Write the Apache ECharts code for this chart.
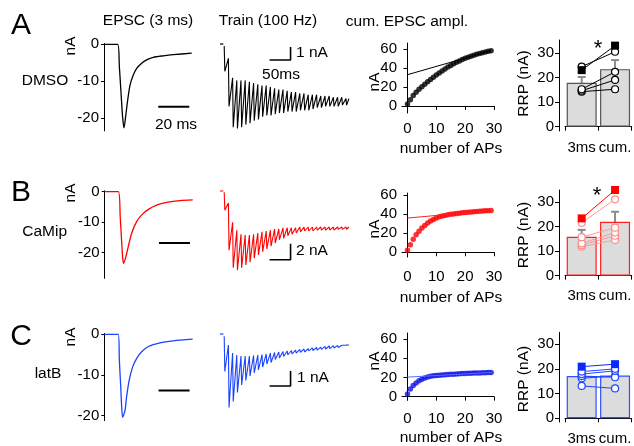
<!DOCTYPE html>
<html><head><meta charset="utf-8">
<script src="https://cdn.jsdelivr.net/npm/echarts@6/dist/echarts.min.js"></script>
<style>html,body{margin:0;padding:0;background:#fff}#c{width:634px;height:446px}</style>
</head><body><div id="c"></div>
<script>
// ---------- DATA ----------
// EPSC (3 ms) traces: time (ms), current (nA)
const epscTimeA = [0, 8.8, 9.9, 11.0, 12.0, 12.9, 14.2, 15.3, 16.8, 18.9, 21.1, 24.3, 27.5, 31.8, 38.3, 44.7, 56.6];
const epscValA  = [0, 0, -6, -13.2, -19.6, -22.6, -18.7, -15, -11, -8.3, -6.5, -5.1, -4.2, -3.5, -3.1, -2.8, -2.4];
const epscTimeB = [0, 8.8, 10.0, 11.0, 11.6, 12.2, 13.7, 15.2, 17.4, 20.6, 23.9, 28.2, 33.5, 40, 48.6, 56.8];
const epscValB  = [0, 0, -8.2, -16.9, -21.8, -23.5, -21.3, -18, -13.6, -9.8, -7.6, -5.8, -4.4, -3.5, -2.9, -2.7];
const epscTimeC = [0, 9.05, 9.7, 10.6, 11.2, 11.85, 13.4, 14.4, 16.1, 18.3, 20.9, 24.1, 28.4, 35.9, 44.5, 57];
const epscValC  = [0, 0, -6.3, -12.9, -17.8, -20.4, -18.6, -15.3, -11.2, -8.0, -5.9, -4.3, -3.0, -2.1, -1.6, -1.2];
const epscTicks = [0, -10, -20];

// Train (100 Hz): peak and inter-pulse current for each of 30 pulses (nA)
const trainPeaksA   = [-2.1,-4.8,-6.4,-6.5,-6.4,-6.2,-6.1,-5.9,-5.8,-5.6,-5.5,-5.5,-5.4,-5.3,-5.3,-5.2,-5.2,-5.2,-5.1,-5.1,-5.1,-5.0,-4.9,-4.9,-4.8,-4.8,-4.8,-4.8,-4.7,-4.7];
const trainTroughsA = [-1.1,-2.6,-2.8,-2.8,-2.8,-2.9,-3.0,-3.1,-3.2,-3.2,-3.3,-3.4,-3.5,-3.5,-3.6,-3.7,-3.7,-3.8,-3.8,-3.9,-3.9,-3.9,-4.0,-4.0,-4.0,-4.1,-4.1,-4.1,-4.2,-4.2];
const trainPeaksB   = [-2.4,-7.4,-9.6,-9.9,-9.6,-9.25,-8.9,-8.4,-8.0,-7.6,-7.25,-6.9,-6.5,-6.1,-5.9,-5.6,-5.4,-5.25,-5.1,-5.0,-5.0,-5.0,-4.9,-4.9,-4.9,-4.9,-4.9,-4.8,-4.8,-4.8];
const trainTroughsB = [-1.5,-3.9,-4.9,-5.4,-5.5,-5.5,-5.4,-5.25,-5.1,-5.0,-4.9,-4.75,-4.75,-4.6,-4.6,-4.6,-4.6,-4.5,-4.5,-4.5,-4.5,-4.5,-4.5,-4.5,-4.5,-4.5,-4.5,-4.5,-4.5,-4.5];
const trainPeaksC   = [-2.5,-4.9,-4.5,-3.9,-3.4,-3.1,-2.8,-2.6,-2.4,-2.2,-2.0,-1.9,-1.7,-1.6,-1.5,-1.4,-1.33,-1.27,-1.23,-1.2,-1.13,-1.1,-1.07,-1.03,-1.0,-0.97,-0.93,-0.9,-0.87,-0.87];
const trainTroughsC = [-0.73,-1.27,-1.4,-1.47,-1.47,-1.47,-1.43,-1.4,-1.37,-1.33,-1.27,-1.23,-1.2,-1.17,-1.13,-1.1,-1.07,-1.03,-1.0,-0.97,-0.93,-0.9,-0.87,-0.83,-0.8,-0.77,-0.76,-0.75,-0.74,-0.73];
const pulseStart = 10, pulseInterval = 10; // ms (100 Hz)

// Cumulative EPSC amplitude (nA) vs AP number 0..29, and back-extrapolated fit line (value at AP 0 and AP 29)
const cumA = [2, 6.5, 11, 14.5, 17.5, 20.3, 23, 25.5, 28, 30.4, 32.7, 34.9, 37, 39, 41, 42.8, 44.5, 46.1, 47.6, 49, 50.3, 51.5, 52.6, 53.6, 54.5, 55.4, 56.2, 57, 57.7, 58.4];
const fitA = [33, 58.4];
const cumB = [2, 8, 13.7, 18.5, 22, 25.5, 28.3, 30.8, 32.8, 34.5, 36.2, 37.3, 38.1, 38.8, 39.4, 39.9, 40.4, 40.8, 41.2, 41.5, 41.8, 42.1, 42.4, 42.6, 42.9, 43.1, 43.4, 43.6, 43.8, 44.0];
const fitB = [36, 44];
const cumC = [2.7, 8, 11.5, 14.3, 16.4, 18.2, 19.5, 20.4, 21.1, 21.6, 22, 22.3, 22.6, 22.8, 23, 23.2, 23.4, 23.6, 23.8, 24, 24.1, 24.3, 24.4, 24.5, 24.6, 24.7, 24.8, 24.9, 25, 25.1];
const fitC = [20.3, 25.1];
const cumXTicks = [0, 10, 20, 30];
const cumYTicks = [0, 20, 40, 60];

// RRP (nA): categories, means, error ranges [low, high], individual cells (first = filled square)
const rrpCats = ['3ms', 'cum.'];
const rrpTicks = [0, 10, 20, 30];
const rrpMeanA = [17.9, 23.5];
const rrpErrA  = [[15.5, 20.3], [19.8, 27.2]];
const rrpPreA  = [23.1, 24.5, 15.3, 14.7, 14.3];
const rrpPostA = [33.1, 30.6, 22.4, 19.1, 15.3];
const rrpMeanB = [15.9, 22.0];
const rrpErrB  = [[13.1, 18.7], [17.9, 26.1]];
const rrpPreB  = [23.4, 21.6, 15.7, 13.2, 12.5, 11.8];
const rrpPostB = [35.0, 31.2, 19.6, 17.6, 16.3, 14.6];
const rrpMeanC = [17.1, 17.3];
const rrpErrC  = [[15.8, 18.4], [15.6, 19.0]];
const rrpPreC  = [20.9, 18.9, 17.9, 17.1, 16.2, 13.1];
const rrpPostC = [21.9, 20.0, 19.2, 16.6, 17.1, 12.1];

// ---------- BUILD ----------
const FONT = "'Liberation Sans', Arial, Helvetica, sans-serif";
const grids = [], xAxes = [], yAxes = [], series = [], graphics = [];
const lineAx = {show: true, lineStyle: {color: '#000', width: 1}};
function tick(len, vals) { const t = {show: true, length: len, lineStyle: {color: '#000', width: 1}}; if (vals) t.customValues = vals; return t; }
function lab(margin, vals) { const l = {show: true, color: '#000', fontSize: 15, fontFamily: FONT, margin: margin, hideOverlap: false}; if (vals) l.customValues = vals; else l.interval = 0; return l; }

function epscPanel(g, yMin, yMax, t, v, color, barY) {
  grids.push(g); const gi = grids.length - 1;
  xAxes.push({type: 'value', gridIndex: gi, min: 0, max: 57, show: false});
  yAxes.push({type: 'value', gridIndex: gi, min: yMin, max: yMax, axisLine: lineAx, axisTick: tick(3, epscTicks), axisLabel: lab(5, epscTicks), splitLine: {show: false}});
  series.push({type: 'line', xAxisIndex: gi, yAxisIndex: gi, data: t.map((x, i) => [x, v[i]]), showSymbol: false, smooth: 0.25, lineStyle: {color: color, width: 1.3}, silent: true});
  series.push({type: 'line', xAxisIndex: gi, yAxisIndex: gi, data: [[35, barY], [55, barY]], showSymbol: false, lineStyle: {color: '#000', width: 2}, silent: true});
}
function trainPanel(g, yMin, yMax, peaks, troughs, color, sbY, sbH) {
  grids.push(g); const gi = grids.length - 1;
  xAxes.push({type: 'value', gridIndex: gi, min: 0, max: 310, show: false});
  yAxes.push({type: 'value', gridIndex: gi, min: yMin, max: yMax, show: false});
  const pts = [];
  for (let i = 0; i < peaks.length; i++) {
    const t = pulseStart + i * pulseInterval;
    pts.push([t, i === 0 ? -0.15 : troughs[i - 1]]);
    pts.push([t + 1.5, peaks[i]]);
  }
  pts.push([pulseStart + peaks.length * pulseInterval - 3, troughs[troughs.length - 1]]);
  series.push({type: 'line', xAxisIndex: gi, yAxisIndex: gi, data: [[0, 0], [8, 0]], showSymbol: false, lineStyle: {color: color, width: 1.2}, silent: true});
  series.push({type: 'line', xAxisIndex: gi, yAxisIndex: gi, data: pts, showSymbol: false, lineStyle: {color: color, width: 1.1}, silent: true});
  series.push({type: 'line', xAxisIndex: gi, yAxisIndex: gi, data: [[118, sbY], [168, sbY], [168, sbY + sbH]], showSymbol: false, lineStyle: {color: '#000', width: 1.6}, silent: true});
}
function cumPanel(g, yMin, yMax, vals, fit, color, fitColor, xMargin) {
  grids.push(g); const gi = grids.length - 1;
  xAxes.push({type: 'value', gridIndex: gi, min: -1.9, max: 30, axisLine: lineAx, axisTick: tick(4, cumXTicks), axisLabel: lab(xMargin, cumXTicks), splitLine: {show: false}});
  yAxes.push({type: 'value', gridIndex: gi, min: yMin, max: yMax, axisLine: lineAx, axisTick: tick(4, cumYTicks), axisLabel: lab(5, cumYTicks), splitLine: {show: false}});
  series.push({type: 'line', xAxisIndex: gi, yAxisIndex: gi, data: [[0, fit[0]], [29, fit[1]]], showSymbol: false, lineStyle: {color: fitColor, width: 1}, silent: true});
  series.push({type: 'scatter', xAxisIndex: gi, yAxisIndex: gi, data: vals.map((v, i) => [i, v]), symbolSize: 5.5, itemStyle: {color: color}, silent: true});
}
function rrpPanel(g, yMin, yMax, means, errs, pre, post, c) {
  grids.push(g); const gi = grids.length - 1;
  xAxes.push({type: 'category', gridIndex: gi, data: rrpCats, offset: 4, axisLine: lineAx, axisTick: tick(4), axisLabel: lab(5), splitLine: {show: false}});
  yAxes.push({type: 'value', gridIndex: gi, min: yMin, max: yMax, offset: 6, axisLine: lineAx, axisTick: tick(4, rrpTicks), axisLabel: lab(5, rrpTicks), splitLine: {show: false}});
  series.push({type: 'bar', xAxisIndex: gi, yAxisIndex: gi, data: means, barWidth: 30, itemStyle: {color: '#dcdcdc', borderColor: c.bar, borderWidth: 1.2}, silent: true});
  series.push({type: 'custom', xAxisIndex: gi, yAxisIndex: gi, data: errs.map((e, i) => [i, e[0], e[1]]), silent: true,
    renderItem: function (params, api) {
      const p1 = api.coord([api.value(0), api.value(1)]), p2 = api.coord([api.value(0), api.value(2)]);
      const st = {stroke: '#8c8c8c', lineWidth: 2};
      return {type: 'group', children: [
        {type: 'line', shape: {x1: p1[0], y1: p1[1], x2: p2[0], y2: p2[1]}, style: st},
        {type: 'line', shape: {x1: p2[0] - 4, y1: p2[1], x2: p2[0] + 4, y2: p2[1]}, style: st},
        {type: 'line', shape: {x1: p1[0] - 4, y1: p1[1], x2: p1[0] + 4, y2: p1[1]}, style: st}]};
    }});
  for (let k = pre.length - 1; k >= 0; k--) {
    const sq = k === 0;
    series.push({type: 'line', xAxisIndex: gi, yAxisIndex: gi, data: [pre[k], post[k]], symbol: sq ? 'rect' : 'circle', symbolSize: sq ? 8 : 7, showSymbol: true,
      itemStyle: sq ? {color: c.sq} : {color: '#fff', borderColor: c.circ, borderWidth: 1.2},
      lineStyle: {color: sq ? c.sq : c.circLine, width: 1}, silent: true});
  }
}
function txt(x, y, s, o) {
  o = o || {};
  graphics.push({type: 'text', x: x, y: y, rotation: o.rot || 0, silent: true,
    style: {text: s, fill: '#000', fontSize: o.size || 15.5, fontFamily: FONT, fontWeight: o.weight || 'normal', align: o.align || 'center', verticalAlign: 'middle'}});
}

// Row A (DMSO)
epscPanel({left: 104, top: 43.6, width: 88.35, height: 87.3}, -23.4, 0.2, epscTimeA, epscValA, '#000', -16.9);
trainPanel({left: 220, top: 37.5, width: 130.2, height: 104}, -7.5, 0.5, trainPeaksA, trainTroughsA, '#000', -1.23, 1);
cumPanel({left: 402, top: 43, width: 92, height: 70}, -7.5, 66.5, cumA, fitA, '#000', '#000', 8);
rrpPanel({left: 565, top: 40, width: 68, height: 91}, -1.75, 35.4, rrpMeanA, rrpErrA, rrpPreA, rrpPostA, {bar: '#555', sq: '#000', circ: '#000', circLine: '#000'});
// Row B (CaMip)
epscPanel({left: 104.7, top: 190.8, width: 88.35, height: 87.5}, -28.4, 0.3, epscTimeB, epscValB, '#ff0000', -16.8);
trainPanel({left: 220, top: 187, width: 130.2, height: 92}, -11, 0.5, trainPeaksB, trainTroughsB, '#ff0000', -8.6, 2);
cumPanel({left: 402, top: 193, width: 92, height: 64}, -5, 62.4, cumB, fitB, '#ff0000', '#ff2020', 12);
rrpPanel({left: 565, top: 190, width: 68, height: 89.3}, -1.5, 35, rrpMeanB, rrpErrB, rrpPreB, rrpPostB, {bar: '#ff2020', sq: '#ff0000', circ: '#ff8a8a', circLine: '#ff9a9a'});
// Row C (latB)
epscPanel({left: 104.3, top: 333.5, width: 88.35, height: 87.1}, -21.2, 0.2, epscTimeC, epscValC, '#1a44ff', -13.8);
trainPanel({left: 220, top: 326.5, width: 130.2, height: 90}, -5.5, 0.5, trainPeaksC, trainTroughsC, '#1a44ff', -3.47, 1);
cumPanel({left: 402, top: 333, width: 92, height: 67}, -3.5, 66.2, cumC, fitC, '#1010e6', '#5070ff', 11.5);
rrpPanel({left: 565, top: 332.3, width: 68, height: 89.7}, -1.5, 34.8, rrpMeanC, rrpErrC, rrpPreC, rrpPostC, {bar: '#3050ff', sq: '#0a28ff', circ: '#1f44ff', circLine: '#1f44ff'});

// Texts
txt(21, 26, 'A', {size: 30}); txt(21, 192.5, 'B', {size: 30}); txt(21, 336.5, 'C', {size: 30});
txt(148, 21, 'EPSC (3 ms)'); txt(268, 21, 'Train (100 Hz)'); txt(407, 22, 'cum. EPSC ampl.');
txt(45, 80.5, 'DMSO'); txt(44.7, 232, 'CaMip'); txt(48, 374, 'latB');
txt(70.5, 46, 'nA', {rot: Math.PI / 2}); txt(71, 193, 'nA', {rot: Math.PI / 2}); txt(71, 337, 'nA', {rot: Math.PI / 2});
txt(176, 124.5, '20 ms');
txt(296, 53, '1 nA', {align: 'left'}); txt(281, 75, '50ms');
txt(296, 251, '2 nA', {align: 'left'});
txt(297, 378, '1 nA', {align: 'left'});
txt(375, 82, 'nA', {rot: Math.PI / 2}); txt(374.5, 229, 'nA', {rot: Math.PI / 2}); txt(374.5, 361, 'nA', {rot: Math.PI / 2});
txt(451, 149, 'number of APs'); txt(451, 298, 'number of APs'); txt(451, 438, 'number of APs');
txt(524, 83.5, 'RRP (nA)', {rot: Math.PI / 2}); txt(523.5, 235, 'RRP (nA)', {rot: Math.PI / 2}); txt(523.5, 379, 'RRP (nA)', {rot: Math.PI / 2});
txt(598, 49, '*', {size: 22}); txt(597, 196, '*', {size: 22});

const chart = echarts.init(document.getElementById('c'), null, {renderer: 'canvas'});
chart.setOption({animation: false, backgroundColor: '#fff', grid: grids, xAxis: xAxes, yAxis: yAxes, series: series, graphic: graphics});
</script></body></html>
